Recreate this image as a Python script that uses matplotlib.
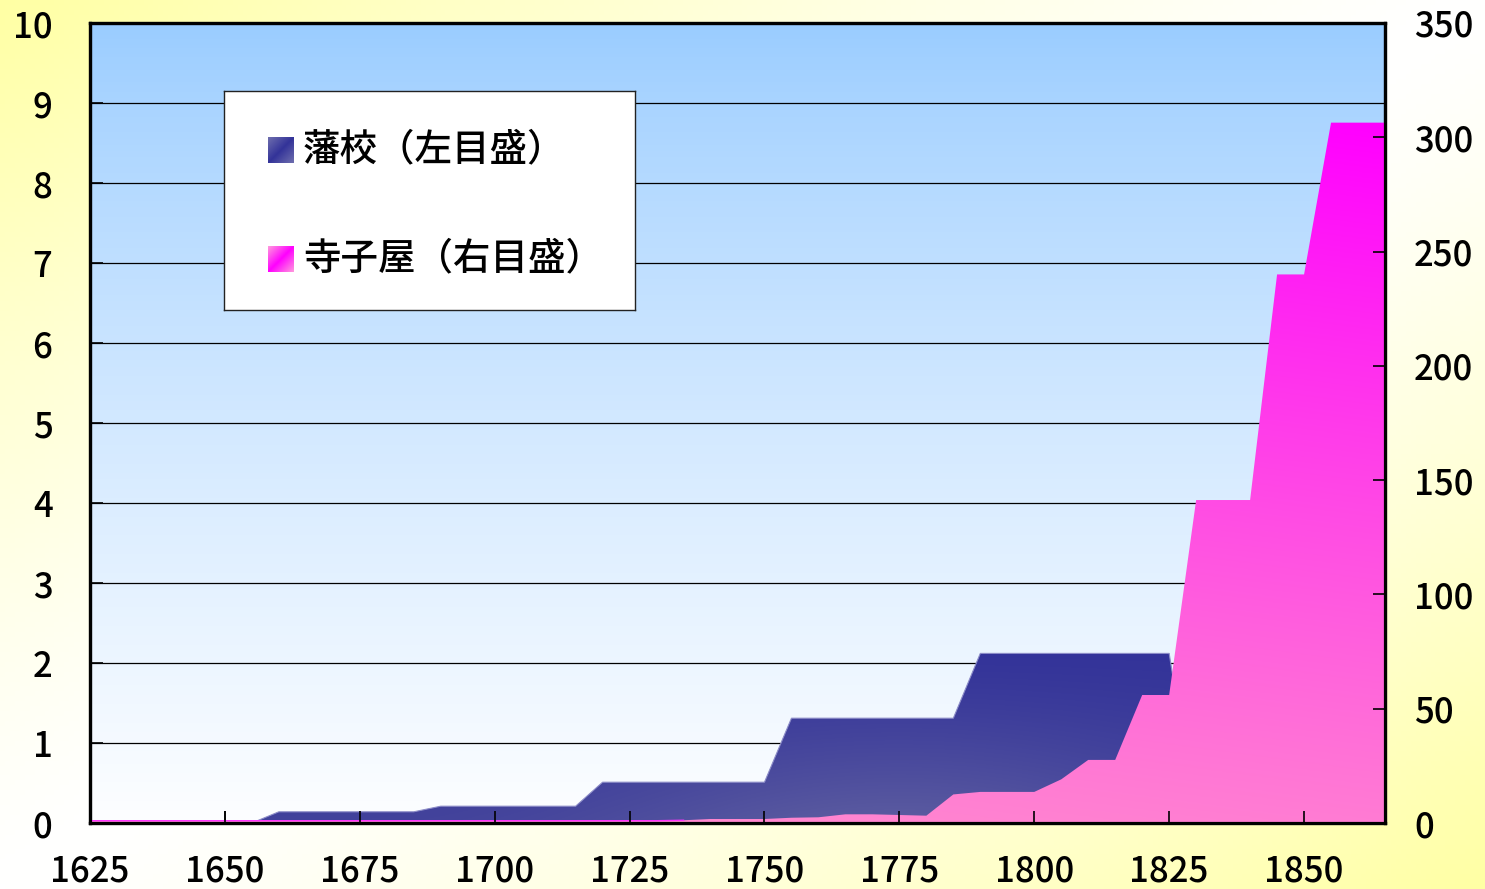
import numpy as np
import matplotlib.pyplot as plt
from matplotlib.colors import to_rgb

plt.rcParams['font.family'] = ['Noto Sans CJK JP', 'DejaVu Sans']
plt.rcParams['font.weight'] = 'medium'

# data (5-year steps)
years = [1625, 1630, 1635, 1640, 1645, 1650, 1655, 1660, 1665, 1670,
         1675, 1680, 1685, 1690, 1695, 1700, 1705, 1710, 1715, 1720,
         1725, 1730, 1735, 1740, 1745, 1750, 1755, 1760, 1765, 1770,
         1775, 1780, 1785, 1790, 1795, 1800, 1805, 1810, 1815, 1820,
         1825, 1830, 1835, 1840, 1845, 1850, 1855, 1860, 1865]
# 藩校 (left scale)
hanko = [0, 0, 0, 0, 0, 0, 0, 0.14, 0.14, 0.14,
         0.14, 0.14, 0.14, 0.21, 0.21, 0.21, 0.21, 0.21, 0.21, 0.51,
         0.51, 0.51, 0.51, 0.51, 0.51, 0.51, 1.31, 1.31, 1.31, 1.31,
         1.31, 1.31, 1.31, 2.12, 2.12, 2.12, 2.12, 2.12, 2.12, 2.12,
         2.12, 0, 0, 0, 0, 0, 0, 0, 0]
# 寺子屋 (right scale)
terakoya = [1.0, 1.0, 1.0, 1.0, 1.0, 1.0, 1.0, 1.0, 1.0, 1.0,
            1.0, 1.0, 1.0, 1.0, 1.0, 1.0, 1.0, 1.0, 1.0, 1.0,
            1.0, 1.0, 1.2, 1.75, 1.75, 1.75, 2.3, 2.5, 3.8, 3.8,
            3.5, 3.2, 12.5, 13.6, 13.6, 13.6, 19.1, 27.6, 27.6, 56,
            56, 141.3, 141.3, 141.3, 240, 240, 306.4, 306.4, 306.4]

labels = ['藩校（左目盛）', '寺子屋（右目盛）']
x_ticks = [1625, 1650, 1675, 1700, 1725, 1750, 1775, 1800, 1825, 1850]
left_ticks = [0, 1, 2, 3, 4, 5, 6, 7, 8, 9, 10]
right_ticks = [0, 50, 100, 150, 200, 250, 300, 350]


def mix(c0, c1, t):
    t = np.clip(t, 0, 1)[..., None]
    return (1 - t) * np.array(to_rgb(c0)) + t * np.array(to_rgb(c1))


W, H = 1485, 889
fig = plt.figure(figsize=(W / 100, H / 100), dpi=100)

# figure background: pale yellow corners, white across the anti-diagonal
bg = fig.add_axes([0, 0, 1, 1], zorder=-10)
u, v = np.meshgrid(np.linspace(0, 1, 300), np.linspace(0, 1, 180))
s = np.abs(u + v - 1) ** 1.3
bg.imshow(mix('#FFFFFF', '#FFFFA4', s), extent=[0, 1, 0, 1], aspect='auto',
          origin='upper')
bg.axis('off')

ax = fig.add_axes([90 / W, 1 - 823 / H, 1295 / W, 800 / H])
ax.patch.set_visible(False)
x0, x1 = 1625, 1865

# plot area background gradient
tv = np.linspace(0, 1, 256)[:, None] ** 0.8 * np.ones((1, 2))
ax.imshow(mix('#99CCFF', '#FDFEFF', tv), extent=[x0, x1, 0, 10],
          aspect='auto', origin='upper', zorder=0)

# 藩校 area with gradient fill
poly = ax.fill_between(years, hanko, color='none', lw=0, zorder=1)
gx, gy = np.meshgrid(np.linspace(x0, x1, 400), np.linspace(0, 2.2, 200))
tb = (1 - gy / 2.2) ** 1.3 * (0.35 + 0.65 * np.exp(-((gx - 1775) / 55) ** 2))
im = ax.imshow(mix('#333399', '#5C5CA0', tb), extent=[x0, x1, 0, 2.2],
               aspect='auto', origin='lower', zorder=1)
im.set_clip_path(poly.get_paths()[0], transform=ax.transData)
ax.plot(years, hanko, color='#8C8CC8', lw=0.8, zorder=1.1)

ax.set_xlim(x0, x1)
ax.set_ylim(0, 10)
ax.set_xticks(x_ticks)
ax.set_yticks(left_ticks)
ax.set_axisbelow(True)
ax.yaxis.grid(True, color='black', lw=0.9)
ax.tick_params(axis='y', direction='in', length=9, width=1.2, pad=27,
               labelsize=25)
ax.tick_params(axis='x', direction='in', length=9, width=1.2, pad=22,
               labelsize=25)

# 寺子屋 area on the right scale
ax2 = ax.twinx()
poly2 = ax2.fill_between(years, terakoya, color='none', lw=0, zorder=1)
px, py = np.meshgrid(np.linspace(x0, x1, 400), np.linspace(0, 310, 300))
tp = 0.8 * (py / 306) + 0.2 * (px - x0) / (x1 - x0)
im2 = ax2.imshow(mix('#FF90CC', '#FF00FF', tp ** 1.2), extent=[x0, x1, 0, 310],
                 aspect='auto', origin='lower', zorder=1)
im2.set_clip_path(poly2.get_paths()[0], transform=ax2.transData)
ax2.plot(years[:23], terakoya[:23], color='#FF33FF', lw=1.0, zorder=1.1)
ax2.set_xlim(x0, x1)
ax2.set_ylim(0, 350)
ax2.set_yticks(right_ticks)
ax2.tick_params(axis='y', direction='in', length=9, width=1.2, pad=21,
                labelsize=25)
ax2.xaxis.set_visible(True)
ax2.tick_params(axis='x', direction='in', length=9, width=1.2,
                labelbottom=False, bottom=True, top=False)

for a in (ax, ax2):
    for sp in a.spines.values():
        sp.set_linewidth(2.3)
        sp.set_color('black')

# legend box
lg = fig.add_axes([224 / W, 1 - 310 / H, 411 / W, 219 / H], zorder=5)
lg.set_xticks([])
lg.set_yticks([])
lg.patch.set_facecolor('white')
for sp in lg.spines.values():
    sp.set_linewidth(1.0)
    sp.set_color('#222222')

su, sv = np.meshgrid(np.linspace(0, 1, 40), np.linspace(0, 1, 40))
sd = np.abs(su + sv - 1)
swatches = [('#333399', '#6E6EAE', 46), ('#FF00FF', '#FF99DD', 155)]
for (dark, light, top), lab in zip(swatches, labels):
    lg.imshow(mix(dark, light, sd), extent=[44, 70, top + 26, top],
              aspect='auto', origin='upper')
    lg.text(79, top + 12, lab, fontsize=27, va='center', ha='left')
lg.set_xlim(0, 411)
lg.set_ylim(219, 0)

fig.savefig('out.png', dpi=100)
